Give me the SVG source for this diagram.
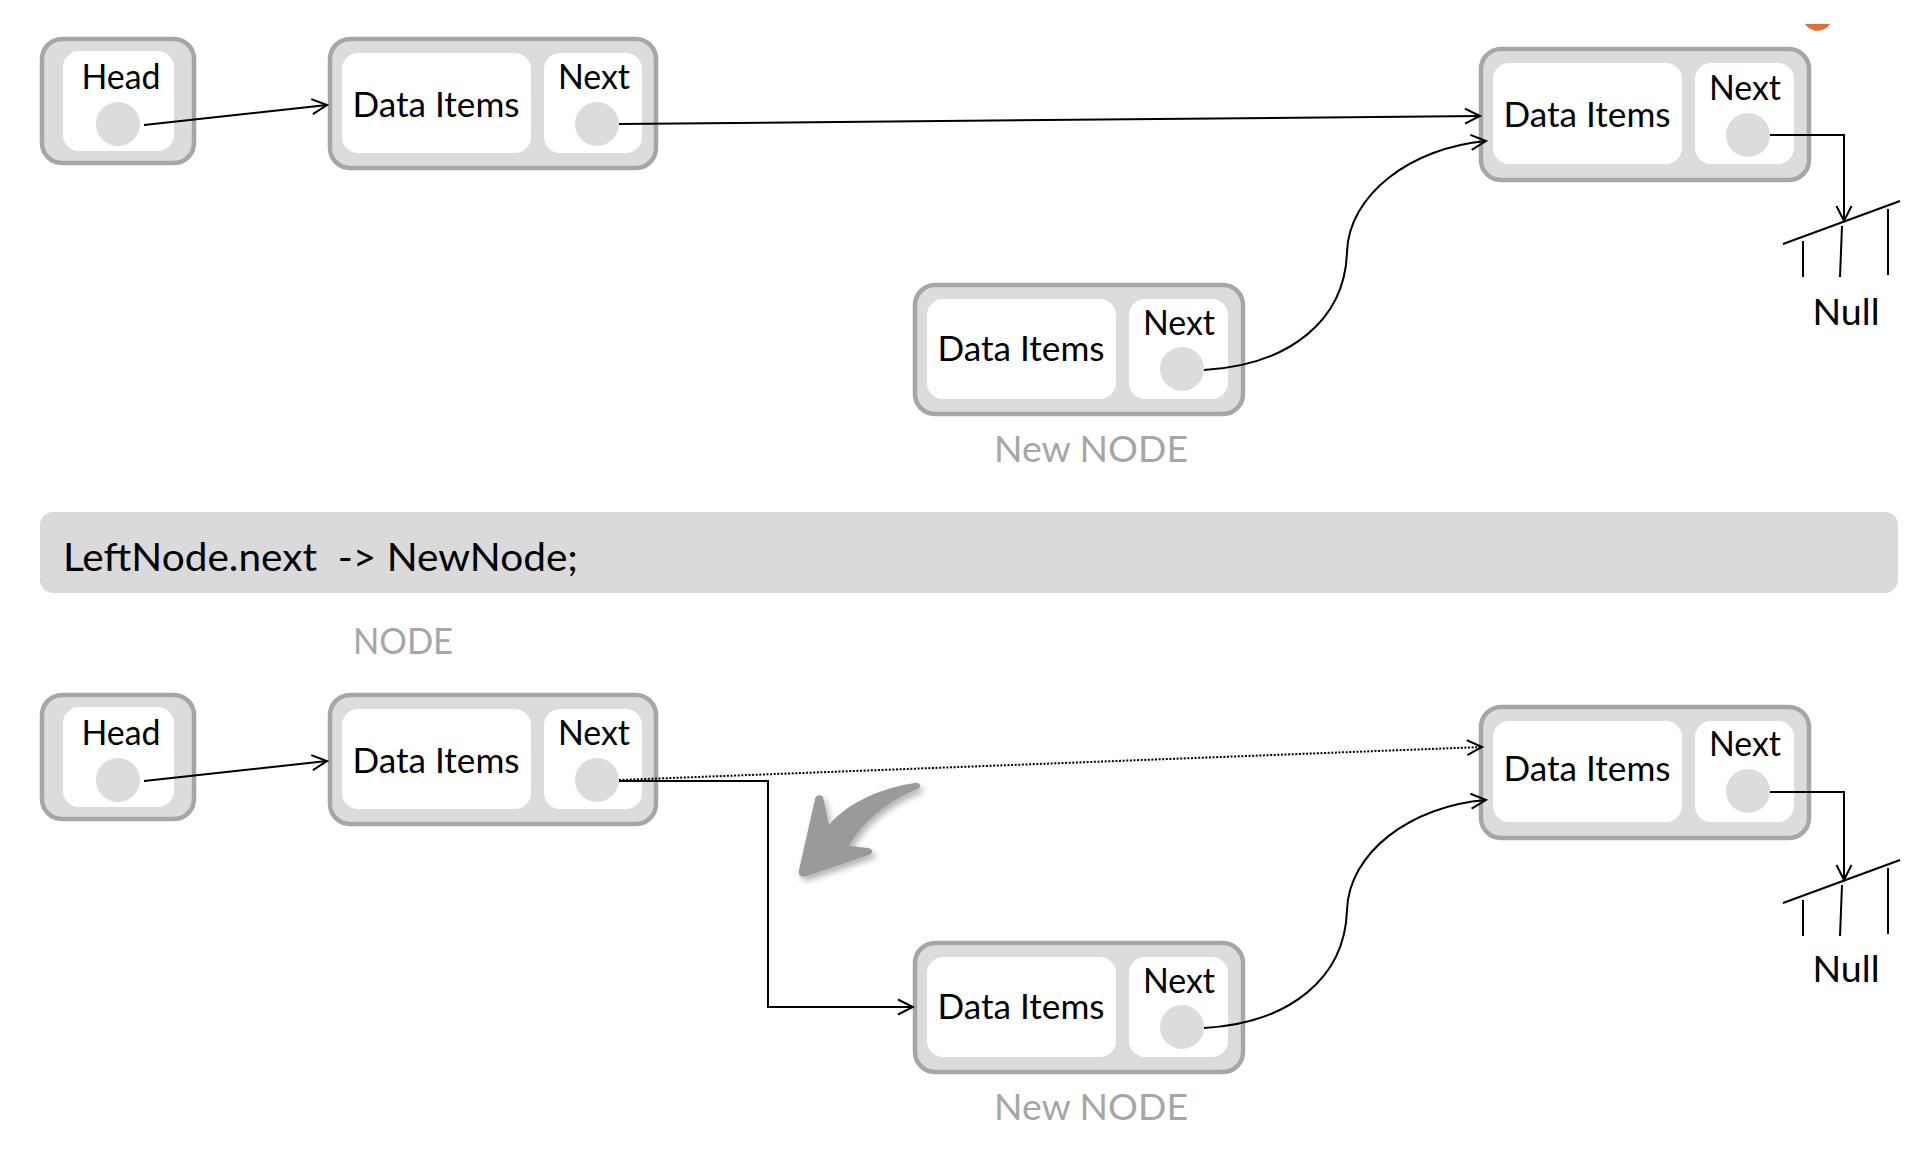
<svg xmlns="http://www.w3.org/2000/svg" width="1920" height="1174" viewBox="0 0 1920 1174">
<style>
.outer{fill:#dcdcdc;stroke:#a6a6a6;stroke-width:4.5}
.inner{fill:#ffffff}
.dot{fill:#dcdcdc}
.t{font-family:Lato,"Open Sans","Liberation Sans",sans-serif;font-size:34px;fill:#000;text-anchor:middle}
.big{font-size:37px}
.lbl{font-family:Lato,"Open Sans","Liberation Sans",sans-serif;font-size:37px;fill:#a6a6a6;text-anchor:middle}
.bar{font-family:Lato,"Open Sans","Liberation Sans",sans-serif;font-size:39px;fill:#000;white-space:pre}
.ln{fill:none;stroke:#000;stroke-width:2}
.arr{marker-end:url(#ah)}
.dotted{stroke-dasharray:2 1.6;stroke-width:2}
</style>
<defs>
<marker id="ah" markerUnits="userSpaceOnUse" markerWidth="18" markerHeight="18" viewBox="0 0 18 18" refX="16" refY="9" orient="auto">
<path d="M1,1.5 L16,9 L1,16.5" fill="none" stroke="#000" stroke-width="2"/>
</marker>
<filter id="sh" x="-30%" y="-30%" width="160%" height="160%">
<feDropShadow dx="3" dy="4" stdDeviation="3" flood-color="#000" flood-opacity="0.3"/>
</filter>
</defs>
<rect width="1920" height="1174" fill="#ffffff"/>
<path id="orange" d="M1805,24 C1811,33 1824,33 1830,24 Z" fill="#e2702f"/>

<!-- Top row -->
<g id="head-top" transform="translate(40,37)">
<rect class="outer" x="2" y="2" width="152" height="124" rx="20"/>
<rect class="inner" x="23" y="14" width="111" height="100" rx="16"/>
<text class="t" x="81" y="52" textLength="79" lengthAdjust="spacingAndGlyphs">Head</text>
<circle class="dot" cx="78" cy="87" r="22"/>
</g>
<g id="left-node-top" transform="translate(328,37)">
<rect class="outer" x="2" y="2" width="326" height="129" rx="20"/>
<rect class="inner" x="14" y="16" width="189" height="100" rx="16"/>
<rect class="inner" x="216" y="16" width="98" height="100" rx="16"/>
<text class="t" x="108" y="80" textLength="167" lengthAdjust="spacingAndGlyphs">Data Items</text>
<text class="t" x="266" y="52" textLength="72" lengthAdjust="spacingAndGlyphs">Next</text>
<circle class="dot" cx="269" cy="87" r="22"/>
</g>
<g id="right-node-top" transform="translate(1479,47)">
<rect class="outer" x="2" y="2" width="328" height="131" rx="20"/>
<rect class="inner" x="14" y="16" width="189" height="101" rx="16"/>
<rect class="inner" x="216" y="16" width="99" height="101" rx="16"/>
<text class="t" x="108" y="80" textLength="167" lengthAdjust="spacingAndGlyphs">Data Items</text>
<text class="t" x="266" y="53" textLength="72" lengthAdjust="spacingAndGlyphs">Next</text>
<circle class="dot" cx="269" cy="88" r="22"/>
</g>
<g id="new-node-top" transform="translate(913,283)">
<rect class="outer" x="2" y="2" width="328" height="129" rx="20"/>
<rect class="inner" x="14" y="16" width="189" height="100" rx="16"/>
<rect class="inner" x="216" y="16" width="99" height="100" rx="16"/>
<text class="t" x="108" y="78" textLength="167" lengthAdjust="spacingAndGlyphs">Data Items</text>
<text class="t" x="266" y="52" textLength="72" lengthAdjust="spacingAndGlyphs">Next</text>
<circle class="dot" cx="269" cy="86" r="22"/>
<text class="lbl" x="178" y="179" textLength="194" lengthAdjust="spacingAndGlyphs">New NODE</text>
</g>
<g id="null-top">
<path class="ln" d="M1783,244 L1900,201 M1803,241 V277 M1842,226 L1840,277 M1888,209 V275"/>
<text class="t big" x="1846" y="325" textLength="67" lengthAdjust="spacingAndGlyphs">Null</text>
</g>

<!-- Code bar -->
<g id="code-bar">
<rect x="40" y="512" width="1858" height="81" rx="13" fill="#dadada"/>
<text class="bar" x="63" y="571" textLength="515" lengthAdjust="spacingAndGlyphs">LeftNode.next  -&gt; NewNode;</text>
</g>
<text id="node-label" class="lbl" x="403" y="654" textLength="100" lengthAdjust="spacingAndGlyphs">NODE</text>

<!-- Bottom row -->
<g id="head-bottom" transform="translate(40,693)">
<rect class="outer" x="2" y="2" width="152" height="124" rx="20"/>
<rect class="inner" x="23" y="14" width="111" height="100" rx="16"/>
<text class="t" x="81" y="52" textLength="79" lengthAdjust="spacingAndGlyphs">Head</text>
<circle class="dot" cx="78" cy="87" r="22"/>
</g>
<g id="left-node-bottom" transform="translate(328,693)">
<rect class="outer" x="2" y="2" width="326" height="129" rx="20"/>
<rect class="inner" x="14" y="16" width="189" height="100" rx="16"/>
<rect class="inner" x="216" y="16" width="98" height="100" rx="16"/>
<text class="t" x="108" y="80" textLength="167" lengthAdjust="spacingAndGlyphs">Data Items</text>
<text class="t" x="266" y="52" textLength="72" lengthAdjust="spacingAndGlyphs">Next</text>
<circle class="dot" cx="269" cy="87" r="22"/>
</g>
<g id="right-node-bottom" transform="translate(1479,705)">
<rect class="outer" x="2" y="2" width="328" height="131" rx="20"/>
<rect class="inner" x="14" y="16" width="189" height="101" rx="16"/>
<rect class="inner" x="216" y="16" width="99" height="101" rx="16"/>
<text class="t" x="108" y="76" textLength="167" lengthAdjust="spacingAndGlyphs">Data Items</text>
<text class="t" x="266" y="51" textLength="72" lengthAdjust="spacingAndGlyphs">Next</text>
<circle class="dot" cx="269" cy="86" r="22"/>
</g>
<g id="new-node-bottom" transform="translate(913,941)">
<rect class="outer" x="2" y="2" width="328" height="129" rx="20"/>
<rect class="inner" x="14" y="16" width="189" height="100" rx="16"/>
<rect class="inner" x="216" y="16" width="99" height="100" rx="16"/>
<text class="t" x="108" y="78" textLength="167" lengthAdjust="spacingAndGlyphs">Data Items</text>
<text class="t" x="266" y="52" textLength="72" lengthAdjust="spacingAndGlyphs">Next</text>
<circle class="dot" cx="269" cy="86" r="22"/>
<text class="lbl" x="178" y="179" textLength="194" lengthAdjust="spacingAndGlyphs">New NODE</text>
</g>
<g id="null-bottom">
<path class="ln" d="M1783,903 L1900,860 M1803,900 V936 M1842,885 L1840,936 M1888,868 V934"/>
<text class="t big" x="1846" y="982" textLength="67" lengthAdjust="spacingAndGlyphs">Null</text>
</g>

<path id="curved-hint" d="M915,783 C884,787 848,802 829,825 L823,797 C820,794 816,795 815,799 L799,870 C798,876 801,878 807,876 L869,855 C874,853 873,849 868,848 L849,846 C864,820 888,801 918,789 C922,787 920,782 915,783 Z" fill="#9a9a9a" filter="url(#sh)"/>

<!-- Connectors -->
<g id="connectors">
<path class="ln arr" d="M144,125 L327,105"/>
<path class="ln arr" d="M619,124 L1480,116"/>
<path class="ln arr" d="M1204,370 C1290,365 1345,320 1347,252 C1349,195 1410,148 1486,141"/>
<path class="ln arr" d="M1770,135 H1844 V221"/>
<path class="ln arr" d="M144,781 L327,761"/>
<path class="ln dotted arr" d="M619,780 L1482,747"/>
<path class="ln arr" d="M619,781 H768 V1007 H913"/>
<path class="ln arr" d="M1204,1028 C1290,1023 1345,978 1347,910 C1349,853 1410,806 1486,800"/>
<path class="ln arr" d="M1770,792 H1844 V880"/>
</g>
</svg>
